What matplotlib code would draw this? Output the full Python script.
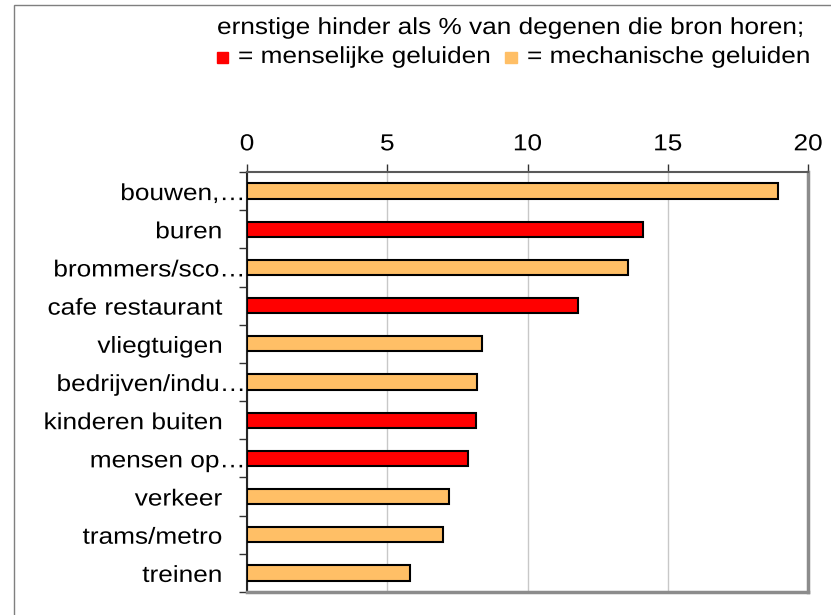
import numpy as np
import matplotlib
matplotlib.use("Agg")
import matplotlib.pyplot as plt
from matplotlib.patches import Rectangle
from matplotlib.patheffects import AbstractPathEffect
from matplotlib.transforms import Affine2D

# values
labels = ["bouwen,…", "buren", "brommers/sco…", "cafe restaurant", "vliegtuigen",
          "bedrijven/indu…", "kinderen buiten", "mensen op…", "verkeer",
          "trams/metro", "treinen"]
values = [18.93, 14.12, 13.59, 11.81, 8.37, 8.21, 8.15, 7.87, 7.21, 6.99, 5.80]
kinds = ["mech", "mens", "mech", "mens", "mech", "mech", "mens", "mens",
         "mech", "mech", "mech"]
x_ticks = [0, 5, 10, 15, 20]

title_line = "ernstige hinder als % van degenen die bron horen;"
legend_mens = "= menselijke geluiden"
legend_mech = "= mechanische geluiden"

RED = "#FF0000"
ORANGE = "#FFBF66"
colors = {"mens": RED, "mech": ORANGE}

W, H = 831, 615
FS = 16.7    # font size in pt
SX = 1.13    # the original text is a bit wider than Arial


# the text in the picture is stretched horizontally, this path effect does that
class Stretch(AbstractPathEffect):
    def __init__(self, sx=SX, anchor="left"):
        super().__init__()
        self.sx = sx
        self.anchor = anchor

    def draw_path(self, renderer, gc, tpath, affine, rgbFace=None):
        ext = tpath.get_extents(affine)
        if self.anchor == "right":
            x0 = ext.x1
        elif self.anchor == "center":
            x0 = (ext.x0 + ext.x1) / 2
        else:
            x0 = affine.get_matrix()[0, 2]
        affine = affine + Affine2D().translate(-x0, 0).scale(self.sx, 1).translate(x0, 0)
        renderer.draw_path(gc, tpath, affine, rgbFace)


plt.rcParams["font.family"] = ["Liberation Sans", "DejaVu Sans"]

fig = plt.figure(figsize=(W / 100, H / 100), dpi=100)
ax = fig.add_axes([247 / W, 1 - 592 / H, (808 - 247) / W, (592 - 172) / H])

y = np.arange(len(labels))
ax.barh(y, values, height=0.4, color=[colors[k] for k in kinds],
        edgecolor="black", linewidth=1.5, zorder=3)

ax.set_xlim(0, 20)
ax.set_ylim(len(labels) - 0.5, -0.5)

# x axis on top
ax.xaxis.tick_top()
ax.set_xticks(x_ticks)
ax.tick_params(axis="x", which="major", direction="out", length=6, width=1,
               color="#333333", pad=6, labelsize=FS, top=True, bottom=False)
ax.grid(axis="x", color="#c8c8c8", linewidth=1, zorder=0)
ax.set_axisbelow(True)

# y axis: labels at the bars, tick marks between the bars
ax.set_yticks(y)
ax.set_yticklabels(labels)
ax.set_yticks(np.arange(len(labels) + 1) - 0.5, minor=True)
ax.tick_params(axis="y", which="major", length=0, labelsize=FS)
ax.tick_params(axis="y", which="minor", direction="out", length=6, width=1,
               color="#333333")
for tick, lab in zip(ax.yaxis.get_major_ticks(), labels):
    tick.set_pad(1.5 if lab.endswith("…") else 18)
    tick.label1.set_path_effects([Stretch(SX, "right")])
for tick in ax.xaxis.get_major_ticks():
    tick.label2.set_path_effects([Stretch(SX, "center")])

ax.spines["top"].set_color("#595959")
ax.spines["top"].set_linewidth(1.5)
ax.spines["left"].set_color("#262626")
ax.spines["left"].set_linewidth(1.5)
for side in ["right", "bottom"]:
    ax.spines[side].set_color("#8c8c8c")
    ax.spines[side].set_linewidth(2.5)

# outer frame of the chart (right and bottom edge fall outside the picture)
fig.patches.append(Rectangle((14 / W, -0.1), 1.2, 1 - 5 / H + 0.1,
                             transform=fig.transFigure, fill=False,
                             edgecolor="#7f7f7f", linewidth=1))

# title and legend text
fig.text(217 / W, 1 - 34 / H, title_line, ha="left", va="baseline",
         fontsize=FS, path_effects=[Stretch(SX, "left")])
fig.patches.append(Rectangle((217 / W, 1 - 63 / H), 11 / W, 11 / H,
                             transform=fig.transFigure, color=RED))
fig.text(238 / W, 1 - 63 / H, legend_mens, ha="left", va="baseline",
         fontsize=FS, path_effects=[Stretch(SX, "left")])
fig.patches.append(Rectangle((505 / W, 1 - 63 / H), 12 / W, 11 / H,
                             transform=fig.transFigure, color=ORANGE))
fig.text(527 / W, 1 - 63 / H, legend_mech, ha="left", va="baseline",
         fontsize=FS, path_effects=[Stretch(SX, "left")])

fig.savefig("out.png", dpi=100)
